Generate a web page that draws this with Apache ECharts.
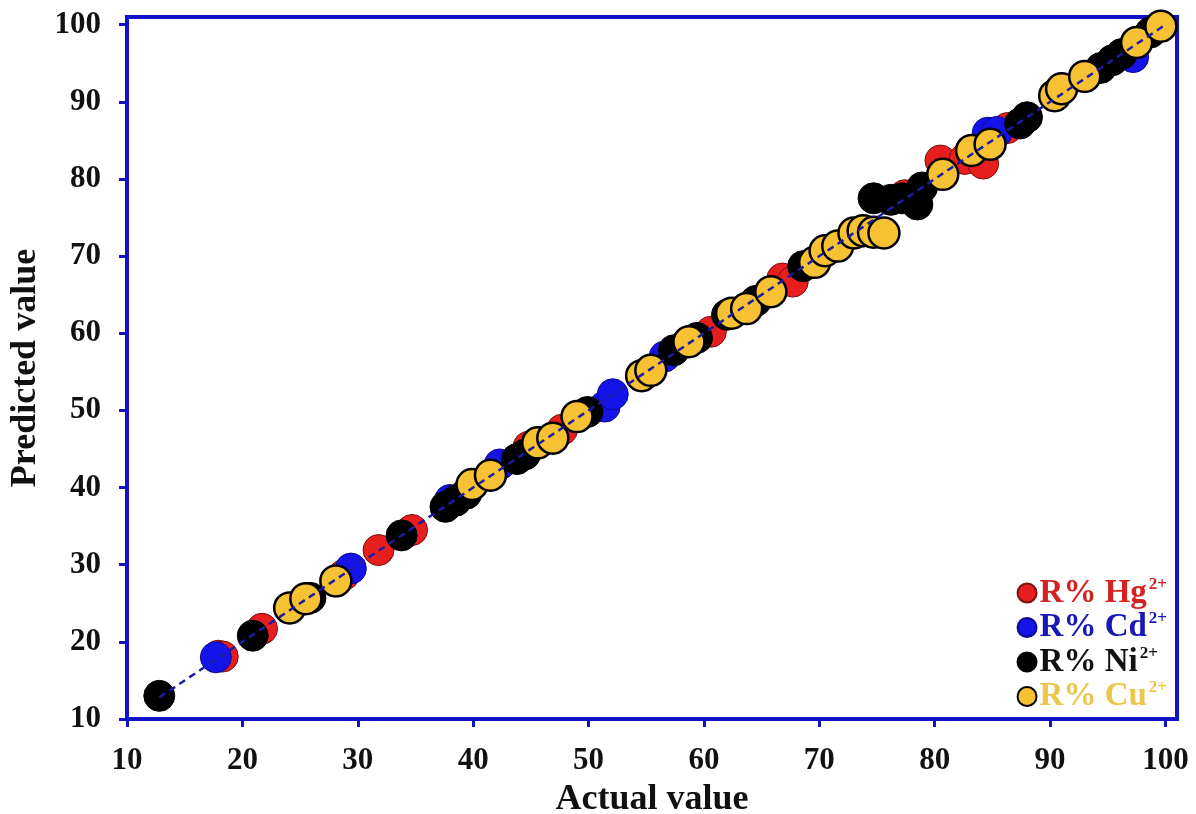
<!DOCTYPE html>
<html>
<head>
  <meta charset="utf-8">
  <style>
    html, body { margin: 0; padding: 0; width: 100%; height: 100%; overflow: hidden; background: #fff; }
  </style>
  <script src="https://cdn.jsdelivr.net/npm/echarts@6/dist/echarts.min.js"></script>
</head>
<body>
  <div id="container" style="width:1196px;height:814px;"></div>
  <script>
    // [actual, predicted] pairs
    var hgData = [[17.9, 18.2], [18.3, 18.1], [21.7, 21.7], [28.8, 28.7], [31.8, 31.9], [34.7, 34.5],
      [44.8, 45.3], [47.7, 47.5], [60.6, 60.2], [66.8, 67.1], [67.7, 66.7], [77.4, 77.9],
      [80.5, 82.4], [82.6, 82.6], [84.2, 82.0], [86.3, 86.6]];
    var cdData = [[17.7, 18.0], [29.4, 29.5], [38.0, 38.4], [42.3, 43.0], [51.4, 50.5], [52.1, 52.1],
      [56.6, 57.0], [84.6, 86.0], [85.4, 86.1], [97.2, 95.8]];
    var niData = [[12.8, 13.0], [20.9, 20.8], [25.9, 25.7], [33.8, 33.8], [37.6, 37.5], [38.5, 38.3],
      [39.4, 39.2], [43.8, 43.7], [44.5, 44.3], [49.9, 49.8], [57.4, 57.8], [59.4, 59.4],
      [62.0, 62.4], [64.5, 64.2], [68.6, 68.7], [74.7, 77.5], [76.2, 77.3], [77.2, 77.5],
      [78.5, 76.7], [78.9, 78.9], [87.4, 87.2], [88.0, 88.0], [94.4, 94.4], [95.4, 95.4],
      [96.2, 96.2], [98.7, 99.0]];
    var cuData = [[24.1, 24.4], [25.5, 25.6], [28.1, 27.9], [39.9, 40.4], [41.5, 41.6], [45.6, 45.8],
      [46.9, 46.4], [49.0, 49.2], [54.6, 54.5], [55.4, 55.2], [58.7, 58.9], [62.4, 62.6],
      [63.7, 63.2], [65.8, 65.4], [69.6, 69.2], [70.5, 70.7], [71.6, 71.3], [73.0, 73.0],
      [73.8, 73.3], [74.7, 73.1], [75.6, 73.0], [80.7, 80.6], [83.2, 83.7], [84.8, 84.5],
      [90.4, 90.8], [91.0, 91.7], [93.0, 93.3], [97.5, 97.7], [99.6, 99.8]];
    var fitLine = [[12.8, 12.8], [100, 100]];
    var tickVals = [10, 20, 30, 40, 50, 60, 70, 80, 90, 100];
    var seriesNames = ['R% Hg2+', 'R% Cd2+', 'R% Ni2+', 'R% Cu2+'];

    var blue = '#1212c8';
    var serif = '"Liberation Serif", "DejaVu Serif", serif';

    function axisCommon(name, gap, labelMargin) {
      return {
        type: 'value',
        min: 10,
        max: 101,
        interval: 10,
        name: name,
        nameLocation: 'middle',
        nameGap: gap,
        nameTextStyle: { fontFamily: serif, fontWeight: 'bold', fontSize: 36, color: '#111' },
        axisLine: { show: true, lineStyle: { color: blue, width: 4 } },
        axisTick: { show: true, length: 8, customValues: tickVals, lineStyle: { color: blue, width: 3 } },
        axisLabel: { customValues: tickVals, fontFamily: serif, fontWeight: 'bold', fontSize: 31, color: '#111', margin: labelMargin },
        splitLine: { show: false }
      };
    }

    var legendKeys = { 'R% Hg2+': 'hg', 'R% Cd2+': 'cd', 'R% Ni2+': 'ni', 'R% Cu2+': 'cu' };
    var legendColors = { hg: '#d42222', cd: '#1818b8', ni: '#111111', cu: '#ecc64a' };
    var rich = {};
    Object.keys(legendColors).forEach(function (k) {
      rich[k] = { fontFamily: serif, fontWeight: 'bold', fontSize: 33, lineHeight: 34, color: legendColors[k] };
      rich[k + 's'] = { fontFamily: serif, fontWeight: 'bold', fontSize: 17, lineHeight: 34, color: legendColors[k], verticalAlign: 'top', padding: [0, 0, 14, 2] };
    });

    function scatter(name, data, color, border, bw, z) {
      return {
        name: name,
        type: 'scatter',
        data: data,
        symbol: 'circle',
        symbolSize: 31,
        z: z,
        itemStyle: { color: color, borderColor: border, borderWidth: bw, opacity: 1 }
      };
    }

    var chart = echarts.init(document.getElementById('container'), null, { renderer: 'canvas' });
    var option = {
      animation: false,
      backgroundColor: '#fff',
      grid: {
        left: 127, right: 19, top: 17, bottom: 95,
        outerBoundsMode: 'none',
        show: true, borderColor: blue, borderWidth: 4, backgroundColor: 'transparent'
      },
      xAxis: axisCommon('Actual value', 63, 26),
      yAxis: axisCommon('Predicted value', 82, 26),
      legend: {
        orient: 'vertical',
        right: 24,
        bottom: 96,
        itemWidth: 19,
        itemHeight: 19,
        itemGap: 1,
        icon: 'circle',
        data: seriesNames,
        formatter: function (name) {
          var k = legendKeys[name];
          return '{' + k + '|' + name.slice(0, -2) + '}{' + k + 's|2+}';
        },
        textStyle: { rich: rich, padding: [0, 0, 0, -2] }
      },
      series: [
        scatter(seriesNames[0], hgData, '#e61e1e', '#7a1010', 1, 2),
        scatter(seriesNames[1], cdData, '#1414e8', '#0a0a90', 1, 3),
        scatter(seriesNames[2], niData, '#000000', '#000000', 1, 4),
        scatter(seriesNames[3], cuData, '#f7c134', '#000000', 2.5, 5),
        {
          name: 'fit',
          type: 'line',
          data: fitLine,
          symbol: 'none',
          z: 10,
          lineStyle: { color: '#1c1ca0', width: 2.5, type: [7, 5] }
        }
      ]
    };
    chart.setOption(option);
  </script>
</body>
</html>
